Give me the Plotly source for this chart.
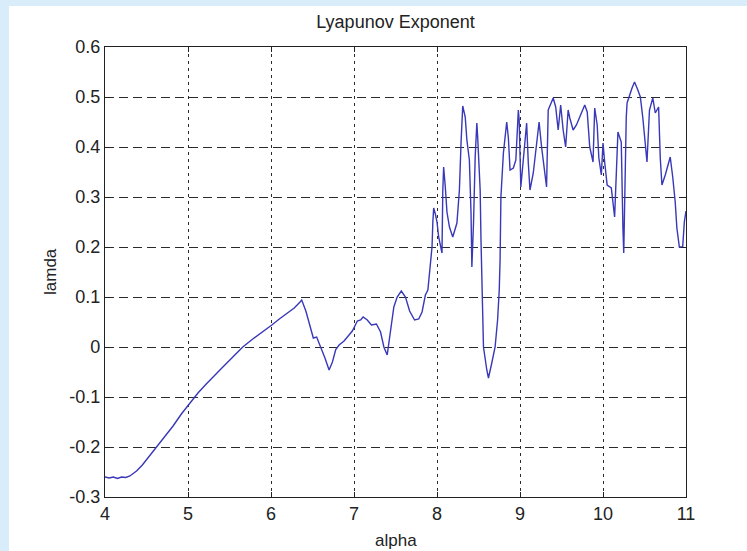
import plotly.graph_objects as go

# Lyapunov exponent of the map as a function of the parameter alpha
alpha = [
    4.00, 4.05, 4.10, 4.15, 4.20, 4.25, 4.30, 4.38, 4.45, 4.55, 4.63, 4.72,
    4.82, 4.92, 5.02, 5.12, 5.22, 5.32, 5.42, 5.54, 5.66, 5.78, 5.90, 6.01,
    6.10, 6.20, 6.28, 6.35, 6.37, 6.42, 6.47, 6.51, 6.55, 6.60, 6.65, 6.70,
    6.74, 6.78, 6.82, 6.88, 6.94, 6.98, 7.04, 7.08, 7.11, 7.16, 7.21, 7.27,
    7.32, 7.36, 7.40, 7.44, 7.48, 7.52, 7.57, 7.62, 7.67, 7.73, 7.78, 7.82,
    7.86, 7.89, 7.92, 7.94, 7.95, 7.96, 7.98, 8.00, 8.02, 8.04, 8.06, 8.07,
    8.08, 8.10, 8.12, 8.15, 8.19, 8.24, 8.27, 8.29, 8.31, 8.34, 8.36, 8.39,
    8.41, 8.42, 8.44, 8.46, 8.48, 8.49, 8.52, 8.53, 8.55, 8.56, 8.60, 8.62,
    8.66, 8.70, 8.73, 8.75, 8.76, 8.77, 8.80, 8.82, 8.84, 8.86, 8.88, 8.92,
    8.95, 8.98, 8.99, 9.01, 9.02, 9.04, 9.08, 9.10, 9.12, 9.16, 9.20, 9.23,
    9.26, 9.30, 9.32, 9.34, 9.38, 9.40, 9.43, 9.46, 9.49, 9.52, 9.55, 9.58,
    9.60, 9.64, 9.68, 9.74, 9.78, 9.81, 9.84, 9.88, 9.90, 9.93, 9.95, 9.98,
    10.00, 10.02, 10.05, 10.10, 10.12, 10.14, 10.18, 10.22, 10.24, 10.25,
    10.28, 10.29, 10.35, 10.38, 10.42, 10.45, 10.48, 10.51, 10.53, 10.56,
    10.60, 10.63, 10.67, 10.69, 10.71, 10.75, 10.81, 10.84, 10.87, 10.89,
    10.92, 10.96, 10.98, 11.00,
]
lamda = [
    -0.260, -0.262, -0.260, -0.263, -0.260, -0.261, -0.258, -0.248, -0.236,
    -0.215, -0.200, -0.180, -0.158, -0.134, -0.112, -0.092, -0.074, -0.056,
    -0.040, -0.020, 0.000, 0.016, 0.030, 0.044, 0.056, 0.068, 0.078, 0.090,
    0.094, 0.072, 0.040, 0.018, 0.020, 0.000, -0.022, -0.046, -0.030, -0.005,
    0.004, 0.012, 0.024, 0.032, 0.052, 0.054, 0.060, 0.054, 0.044, 0.046,
    0.030, 0.000, -0.016, 0.030, 0.080, 0.100, 0.112, 0.100, 0.072, 0.054,
    0.056, 0.070, 0.104, 0.114, 0.168, 0.200, 0.250, 0.278, 0.266, 0.250,
    0.220, 0.200, 0.188, 0.314, 0.360, 0.320, 0.270, 0.240, 0.220, 0.248,
    0.314, 0.410, 0.482, 0.460, 0.414, 0.374, 0.268, 0.160, 0.248, 0.380,
    0.448, 0.420, 0.314, 0.214, 0.100, 0.000, -0.046, -0.062, -0.032, 0.000,
    0.054, 0.114, 0.174, 0.300, 0.388, 0.428, 0.450, 0.418, 0.354, 0.358,
    0.374, 0.474, 0.454, 0.320, 0.340, 0.368, 0.448, 0.368, 0.314, 0.348,
    0.400, 0.450, 0.400, 0.340, 0.320, 0.474, 0.490, 0.498, 0.480, 0.434,
    0.484, 0.434, 0.400, 0.474, 0.458, 0.434, 0.444, 0.470, 0.484, 0.470,
    0.400, 0.370, 0.478, 0.444, 0.378, 0.344, 0.408, 0.370, 0.324, 0.318,
    0.290, 0.260, 0.430, 0.410, 0.238, 0.188, 0.458, 0.488, 0.518, 0.530,
    0.514, 0.500, 0.458, 0.398, 0.370, 0.474, 0.498, 0.468, 0.480, 0.378,
    0.324, 0.344, 0.380, 0.340, 0.290, 0.238, 0.200, 0.200, 0.250, 0.272,
]

x_ticks = [4, 5, 6, 7, 8, 9, 10, 11]
y_ticks = [-0.3, -0.2, -0.1, 0, 0.1, 0.2, 0.3, 0.4, 0.5, 0.6]
y_tick_text = ["-0.3", "-0.2", "-0.1", "0", "0.1", "0.2", "0.3", "0.4", "0.5", "0.6"]

W, H = 747, 551
L, R, T, B = 105, 61, 47, 54
FONT = "Liberation Sans, Arial, sans-serif"

fig = go.Figure()
fig.add_trace(go.Scatter(
    x=alpha, y=lamda, mode="lines",
    line=dict(color="#3838b8", width=1.4),
    hoverinfo="x+y", showlegend=False,
))

axis_common = dict(
    showline=True, linecolor="#222222", linewidth=1.2, mirror="ticks",
    ticks="inside", ticklen=5, tickcolor="#222222", tickwidth=1,
    showgrid=True, gridcolor="#2a2a2a", gridwidth=1.3,
    zeroline=False,
    tickfont=dict(family=FONT, size=18, color="#222222"),
)

fig.update_xaxes(
    range=[4, 11], tickvals=x_ticks, ticktext=[str(v) for v in x_ticks],
    griddash="3px,4px", **axis_common,
)
fig.update_yaxes(
    range=[-0.3, 0.6], tickvals=y_ticks, ticktext=y_tick_text,
    griddash="9px,5px", **axis_common,
)

plot_w = W - L - R
plot_h = H - T - B

fig.update_layout(
    width=W, height=H,
    margin=dict(l=L, r=R, t=T, b=B, pad=0),
    paper_bgcolor="#d9ecf9",
    plot_bgcolor="white",
    title=dict(
        text="Lyapunov Exponent", x=0.5, xref="paper", y=1 - 22 / H,
        yref="container", xanchor="center", yanchor="middle",
        font=dict(family=FONT, size=18, color="#222222"),
    ),
    shapes=[dict(
        type="rect", xref="paper", yref="paper", layer="below",
        x0=(9 - L) / plot_w, x1=(W + 5 - L) / plot_w,
        y0=-(B + 5) / plot_h, y1=(H - B - 6) / plot_h,
        fillcolor="white", line=dict(width=0),
    )],
    annotations=[
        dict(text="alpha", xref="paper", yref="paper", x=0.5,
             y=-(540 - (H - B)) / plot_h, xanchor="center", yanchor="middle",
             showarrow=False, font=dict(family=FONT, size=17, color="#222222")),
        dict(text="lamda", xref="paper", yref="paper", x=-(L - 50) / plot_w,
             y=(H - B - 272) / plot_h, xanchor="center", yanchor="middle",
             textangle=-90, showarrow=False,
             font=dict(family=FONT, size=17, color="#222222")),
    ],
)

fig.write_html("out.html")
